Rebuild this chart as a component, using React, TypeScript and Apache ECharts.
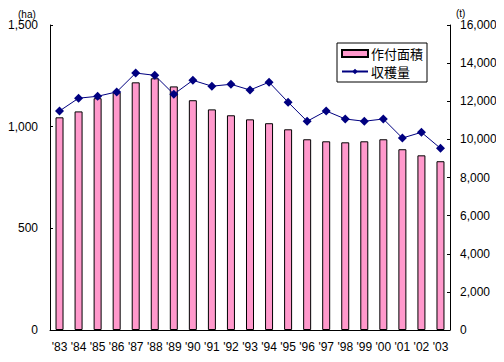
import React, { useEffect, useRef } from "react";
import * as echarts from "echarts";

const years = ["'83","'84","'85","'86","'87","'88","'89","'90","'91","'92","'93","'94","'95","'96","'97","'98","'99","'00","'01","'02","'03"];
const areaHa = [1046,1075,1140,1169,1218,1238,1198,1130,1085,1056,1036,1017,987,938,928,923,928,938,889,859,830];
const harvestT = [11490,12160,12260,12490,13480,13360,12370,13100,12790,12890,12590,13000,11950,10950,11490,11070,10950,11070,10070,10370,9530];

const FONT = "'Liberation Sans', 'Noto Sans CJK JP', sans-serif";

export default function App() {
  const ref = useRef<HTMLDivElement>(null);
  useEffect(() => {
    if (!ref.current) return;
    const chart = echarts.init(ref.current, null, { renderer: "svg" });
    chart.setOption({
      animation: false,
      backgroundColor: "#fff",
      textStyle: { fontFamily: FONT },
      grid: { left: 50, right: 54, top: 25, bottom: 32 },
      legend: {
        left: 337,
        top: 43,
        orient: "vertical",
        borderColor: "#000",
        borderWidth: 1,
        borderRadius: 0,
        padding: [4, 4, 4, 4],
        itemGap: 5,
        itemWidth: 26,
        itemHeight: 7,
        textStyle: { fontSize: 13, color: "#000", fontFamily: "'Noto Sans CJK JP', sans-serif", padding: [0, 0, 0, -2] },
        data: [
          { name: "作付面積", icon: "rect" },
          { name: "収穫量" },
        ],
      },
      xAxis: {
        type: "category",
        data: years,
        boundaryGap: true,
        axisLine: { lineStyle: { color: "#000", width: 1 } },
        axisTick: { inside: true, length: 3, lineStyle: { color: "#000" } },
        axisLabel: { color: "#000", fontSize: 12, margin: 11, interval: 0 },
      },
      yAxis: [
        {
          type: "value",
          min: 0,
          max: 1500,
          interval: 500,
          axisLine: { show: true, lineStyle: { color: "#000", width: 1 } },
          axisTick: { show: true, inside: true, length: 3, lineStyle: { color: "#000" } },
          axisLabel: { color: "#000", fontSize: 12, margin: 12, formatter: (v: number) => v.toLocaleString("en-US") },
          splitLine: { show: false },
        },
        {
          type: "value",
          min: 0,
          max: 16000,
          interval: 2000,
          position: "right",
          axisLine: { show: true, lineStyle: { color: "#000", width: 1 } },
          axisTick: { show: true, inside: true, length: 3, lineStyle: { color: "#000" } },
          axisLabel: { color: "#000", fontSize: 12, margin: 10, formatter: (v: number) => v.toLocaleString("en-US") },
          splitLine: { show: false },
        },
      ],
      graphic: [
        { type: "text", left: 18, top: 9, style: { text: "(ha)", fontSize: 10, fill: "#000", fontFamily: FONT } },
        { type: "text", left: 456, top: 8, style: { text: "(t)", fontSize: 10, fill: "#000", fontFamily: FONT } },
      ],
      series: [
        {
          name: "作付面積",
          type: "bar",
          yAxisIndex: 0,
          data: areaHa,
          barWidth: 8,
          itemStyle: { color: "#FF99CC", borderColor: "#000", borderWidth: 1 },
        },
        {
          name: "収穫量",
          type: "line",
          yAxisIndex: 1,
          data: harvestT,
          symbol: "diamond",
          symbolSize: 9,
          lineStyle: { color: "#000080", width: 1 },
          itemStyle: { color: "#000080" },
        },
      ],
    });
    return () => chart.dispose();
  }, []);
  return <div ref={ref} style={{ width: 504, height: 362, margin: -8 }} />;
}
